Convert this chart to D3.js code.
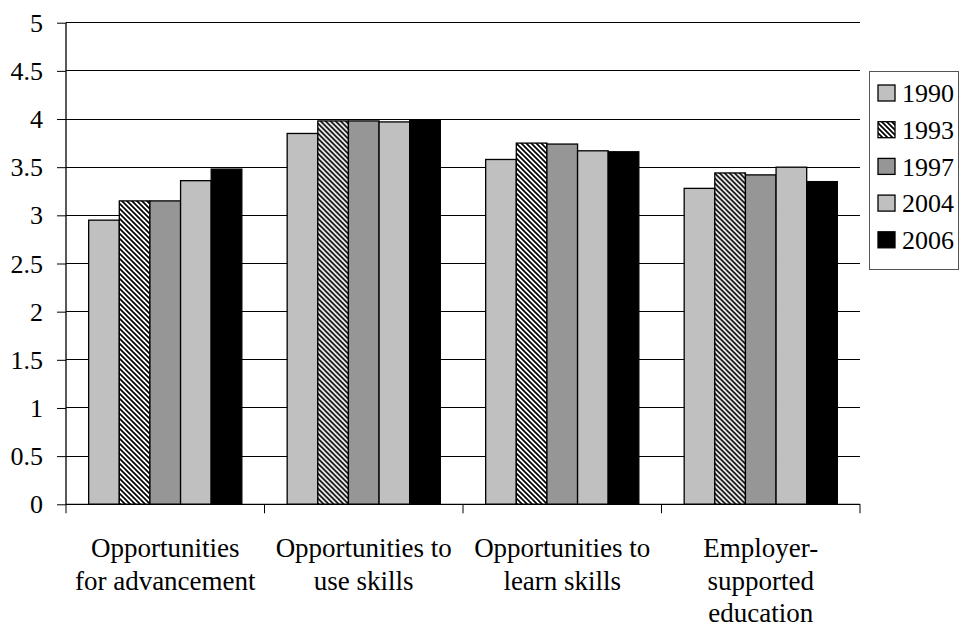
<!DOCTYPE html>
<html><head><meta charset="utf-8">
<script src="https://cdn.jsdelivr.net/npm/d3@7"></script>
<style>
body{margin:0;background:#fff}
svg text, svg tspan, text{font-family:'Liberation Serif',Tinos,'Nimbus Roman',serif !important;fill:#000}
</style>
</head><body>
<script>
const categories = [["Opportunities","for advancement"],["Opportunities to","use skills"],["Opportunities to","learn skills"],["Employer-","supported","education"]];
const categoryKeys = ["adv","use","learn","edu"];
const years = ["1990","1993","1997","2004","2006"];
const v1990 = [2.95, 3.85, 3.58, 3.28];
const v1993 = [3.15, 3.98, 3.75, 3.44];
const v1997 = [3.15, 3.98, 3.74, 3.42];
const v2004 = [3.36, 3.97, 3.67, 3.50];
const v2006 = [3.48, 3.99, 3.66, 3.35];
const yTicks = [0,0.5,1,1.5,2,2.5,3,3.5,4,4.5,5];
const seriesVals = [v1990, v1993, v1997, v2004, v2006];
const fills = ["#c0c0c0","url(#hatch)","#969696","#c0c0c0","#000000"];

const W=962,H=629;
const pL=66,pR=860,pT=22.7,pB=504.3;
const FF="'Liberation Serif', Tinos, 'Nimbus Roman', serif";
const svg=d3.select("body").append("svg").attr("width",W).attr("height",H);
function styl(t,size){ t.attr("font-family",FF).style("font-family",FF,"important").style("font-size",size+"px"); return t; }

const defs=svg.append("defs");
const pat=defs.append("pattern").attr("id","hatch").attr("patternUnits","userSpaceOnUse").attr("width",5).attr("height",5);
pat.append("rect").attr("width",5).attr("height",5).attr("fill","#fff");
pat.append("path").attr("d","M-1,-1 L6,6 M-1,4 L1,6 M4,-1 L6,1").attr("stroke","#000").attr("stroke-width",1.7);

const x0=d3.scaleBand().domain(categoryKeys).range([pL,pR]).paddingInner(0).paddingOuter(0);
const x1=d3.scaleBand().domain(years).range([0,x0.bandwidth()]).paddingOuter(0.74).paddingInner(0);
const y=d3.scaleLinear().domain([0,5]).range([pB,pT]);

svg.append("g").selectAll("line").data(yTicks.filter(d=>d>0)).join("line")
  .attr("x1",pL).attr("x2",pR).attr("y1",d=>y(d)).attr("y2",d=>y(d))
  .attr("stroke","#000").attr("stroke-width",1).attr("shape-rendering","crispEdges");

const rows=categoryKeys.map((k,i)=>({k,vals:years.map((yr,j)=>({yr,j,v:seriesVals[j][i]}))}));
svg.append("g").selectAll("g").data(rows).join("g")
  .attr("transform",d=>`translate(${x0(d.k)},0)`)
  .selectAll("rect").data(d=>d.vals).join("rect")
  .attr("x",d=>x1(d.yr)).attr("width",x1.bandwidth())
  .attr("y",d=>y(d.v)).attr("height",d=>y(0)-y(d.v))
  .attr("fill",d=>fills[d.j]).attr("stroke","#000").attr("stroke-width",1.3);

const ya=svg.append("g").attr("transform",`translate(${pL},0)`)
  .call(d3.axisLeft(y).tickValues(yTicks).tickSize(9).tickFormat(""));
ya.attr("font-family",FF);
ya.select(".domain").attr("d",`M0,${pT}V${pB}`).attr("stroke","#000").attr("stroke-width",1.3);
ya.selectAll(".tick line").attr("stroke","#000");
yTicks.forEach(v=>{
  const t=svg.append("text").attr("x",pL-23).attr("y",y(v)).attr("dy","0.35em").attr("text-anchor","end").text(String(v));
  styl(t,26);
});

const xa=svg.append("g").attr("transform",`translate(0,${pB})`);
xa.append("line").attr("x1",pL).attr("x2",pR).attr("stroke","#000").attr("stroke-width",1.3);
const bounds=categoryKeys.map(k=>x0(k)).concat([pR]);
xa.selectAll("line.t").data(bounds).join("line").attr("class","t")
  .attr("x1",d=>d).attr("x2",d=>d).attr("y1",0).attr("y2",9).attr("stroke","#000");
categoryKeys.forEach((k,i)=>{
  const cx=x0(k)+x0.bandwidth()/2;
  categories[i].forEach((ln,li)=>{
    const t=svg.append("text").attr("text-anchor","middle").attr("x",cx).attr("y",557+li*32.5).text(ln);
    styl(t,27);
  });
});

const lg=svg.append("g");
lg.append("rect").attr("x",869.5).attr("y",71.5).attr("width",89).attr("height",198).attr("fill","#fff").attr("stroke","#555").attr("stroke-width",1);
years.forEach((yr,j)=>{
  const cy=93+j*36.7;
  lg.append("rect").attr("x",878).attr("y",cy-8).attr("width",17).attr("height",16).attr("fill",fills[j]).attr("stroke","#000").attr("stroke-width",1.3);
  const t=lg.append("text").attr("x",902).attr("y",cy).attr("dy","0.35em").text(yr);
  styl(t,26);
});
</script>
</body></html>
